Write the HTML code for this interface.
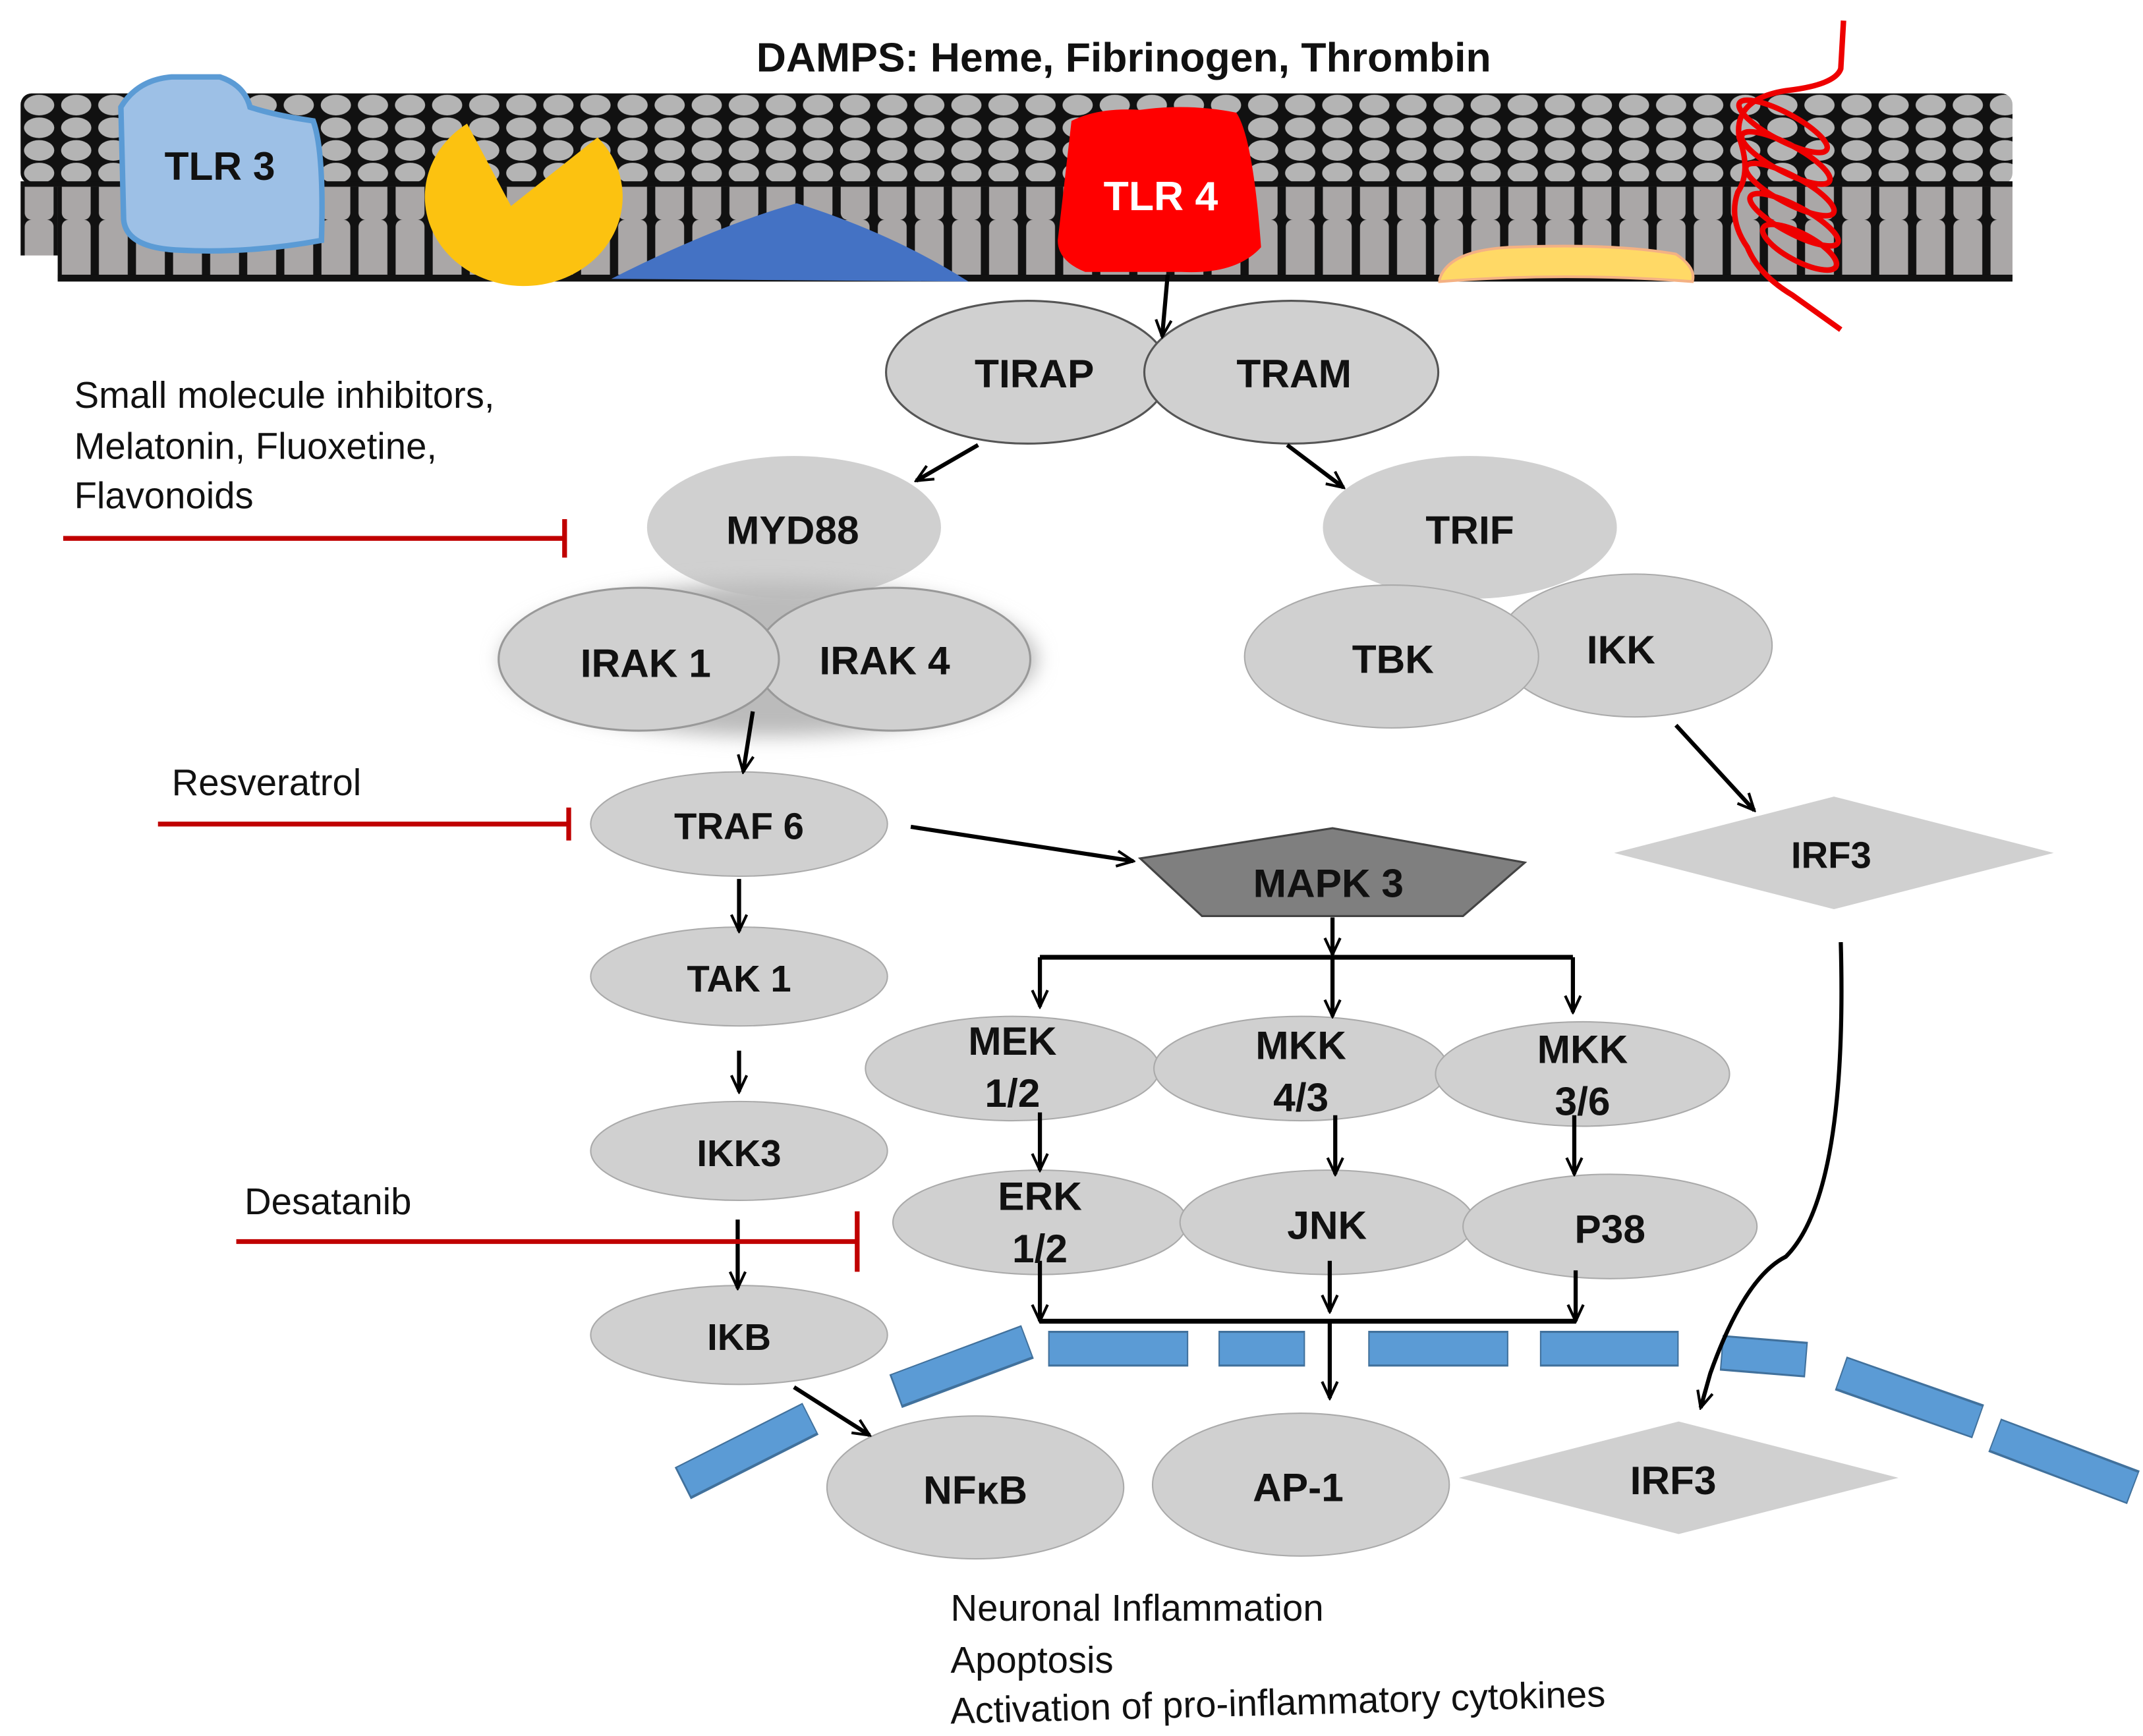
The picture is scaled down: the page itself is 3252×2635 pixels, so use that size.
<!DOCTYPE html>
<html><head><meta charset="utf-8"><style>
html,body{margin:0;padding:0;background:#fff;}
svg{display:block;}
text{font-family:"Liberation Sans",Arial,sans-serif;}
.b{font-weight:bold;fill:#111;}
</style></head><body>
<svg width="3252" height="2635" viewBox="0 0 1560 1264" xmlns="http://www.w3.org/2000/svg">
<defs>
<marker id="a" viewBox="0 0 20 20" refX="18" refY="10" markerWidth="16" markerHeight="16" orient="auto" markerUnits="userSpaceOnUse">
<path d="M3,3 L18,10 L3,17" fill="none" stroke="#000" stroke-width="2.5"/></marker>
<pattern id="heads" x="15" y="68" width="27" height="16.5" patternUnits="userSpaceOnUse">
<rect width="27" height="16.5" fill="#111"/>
<ellipse cx="13.5" cy="8.5" rx="11" ry="7.5" fill="#b4b4b4"/></pattern>
<pattern id="tails" x="15" y="0" width="27" height="80" patternUnits="userSpaceOnUse">
<rect width="27" height="80" fill="#111"/>
<rect x="3" y="0" width="21" height="80" rx="5" fill="#aaa7a7"/></pattern>
<filter id="glow" x="-20%" y="-30%" width="140%" height="160%"><feGaussianBlur stdDeviation="7"/></filter>
</defs>

<rect x="15" y="68" width="1450" height="66" fill="url(#heads)" rx="8"/>
<rect x="15" y="132" width="1450" height="4" fill="#111"/>
<rect x="15" y="136" width="27" height="50" fill="url(#tails)"/>
<rect x="42" y="136" width="1423" height="68" fill="url(#tails)"/>
<rect x="42" y="200" width="1423" height="5" fill="#111"/>

<text x="818" y="52" class="b" font-size="30" text-anchor="middle">DAMPS: Heme, Fibrinogen, Thrombin</text>

<path d="M88,78 Q100,58 125,56 L160,56 Q178,62 182,78 Q200,84 228,88 Q236,110 234,175 Q180,185 128,182 Q92,180 90,160 Z" fill="#9dc0e6" stroke="#5b9bd5" stroke-width="4"/>
<text x="160" y="131" class="b" font-size="29" text-anchor="middle">TLR 3</text>
<path d="M372,150 L340,90 A72,65 0 1 0 435,100 Z" fill="#fcc210"/>
<path d="M445,203 Q520,165 580,148 Q650,170 705,205 Z" fill="#4472c4"/>
<path d="M780,88 Q800,78 830,80 Q865,75 900,82 Q912,100 918,180 Q900,200 860,198 L790,198 Q770,190 770,175 Z" fill="#ff0000"/>
<text x="845" y="153" font-size="30" font-weight="bold" fill="#fff" text-anchor="middle">TLR 4</text>
<path d="M1048,203 Q1055,182 1100,180 Q1175,177 1220,185 Q1235,195 1232,205 Q1140,198 1048,205 Z" fill="#ffd966" stroke="#f4b183" stroke-width="2"/>
<path d="M1342,15 L1340,50 Q1336,62 1300,66 Q1262,72 1266,100 Q1275,125 1265,140 Q1258,160 1272,180 Q1280,200 1305,215 L1340,240" fill="none" stroke="#e00" stroke-width="4"/>
<g fill="none" stroke="#e00" stroke-width="4">
<ellipse cx="1298" cy="92" rx="36" ry="10" transform="rotate(28 1298 92)"/>
<ellipse cx="1300" cy="115" rx="36" ry="10" transform="rotate(28 1300 115)"/>
<ellipse cx="1303" cy="138" rx="36" ry="10" transform="rotate(28 1303 138)"/>
<ellipse cx="1306" cy="160" rx="36" ry="10" transform="rotate(28 1306 160)"/>
<ellipse cx="1310" cy="180" rx="30" ry="10" transform="rotate(28 1310 180)"/>
</g>

<g fill="#d0d0d0" stroke="#555" stroke-width="1.5">
<ellipse cx="748" cy="271" rx="103" ry="52"/>
<ellipse cx="940" cy="271" rx="107" ry="52"/>
<ellipse cx="578" cy="384" rx="107" ry="52" stroke="none"/>
<ellipse cx="1070" cy="384" rx="107" ry="52" stroke="none"/>
</g>
<ellipse cx="560" cy="480" rx="195" ry="56" fill="#bbb" filter="url(#glow)"/>
<g fill="#d0d0d0" stroke="#999" stroke-width="1.5">
<ellipse cx="650" cy="480" rx="100" ry="52"/>
<ellipse cx="465" cy="480" rx="102" ry="52"/>
</g>
<g fill="#d0d0d0" stroke="#aaa" stroke-width="1">
<ellipse cx="1190" cy="470" rx="100" ry="52"/>
<ellipse cx="1013" cy="478" rx="107" ry="52"/>
<ellipse cx="538" cy="600" rx="108" ry="38"/>
<ellipse cx="538" cy="711" rx="108" ry="36"/>
<ellipse cx="538" cy="838" rx="108" ry="36"/>
<ellipse cx="538" cy="972" rx="108" ry="36"/>
<ellipse cx="737" cy="778" rx="107" ry="38"/>
<ellipse cx="947" cy="778" rx="107" ry="38"/>
<ellipse cx="1152" cy="782" rx="107" ry="38"/>
<ellipse cx="757" cy="890" rx="107" ry="38"/>
<ellipse cx="966" cy="890" rx="107" ry="38"/>
<ellipse cx="1172" cy="893" rx="107" ry="38"/>
<ellipse cx="710" cy="1083" rx="108" ry="52"/>
<ellipse cx="947" cy="1081" rx="108" ry="52"/>
</g>
<polygon points="830,625 970,603 1110,628 1065,667 875,667" fill="#7f7f7f" stroke="#444" stroke-width="1.5"/>
<polygon points="1175,621 1335,580 1495,621 1335,662" fill="#d0d0d0"/>
<polygon points="1062,1076 1222,1035 1382,1076 1222,1117" fill="#d0d0d0"/>

<g stroke="#41719c" stroke-width="26" stroke-linecap="butt">
<line x1="497" y1="1080" x2="590" y2="1033"/>
<line x1="652" y1="1013" x2="748" y2="977"/>
<line x1="763" y1="982" x2="865" y2="982"/>
<line x1="887" y1="982" x2="950" y2="982"/>
<line x1="996" y1="982" x2="1098" y2="982"/>
<line x1="1121" y1="982" x2="1222" y2="982"/>
<line x1="1253" y1="985" x2="1315" y2="990"/>
<line x1="1340" y1="1000" x2="1440" y2="1035"/>
<line x1="1452" y1="1045" x2="1553" y2="1083"/>
</g>
<g stroke="#5b9bd5" stroke-width="23" stroke-linecap="butt">
<line x1="498" y1="1079" x2="589" y2="1033"/>
<line x1="653" y1="1012" x2="747" y2="977"/>
<line x1="764" y1="982" x2="864" y2="982"/>
<line x1="888" y1="982" x2="949" y2="982"/>
<line x1="997" y1="982" x2="1097" y2="982"/>
<line x1="1122" y1="982" x2="1221" y2="982"/>
<line x1="1254" y1="985" x2="1314" y2="990"/>
<line x1="1341" y1="1000" x2="1439" y2="1035"/>
<line x1="1453" y1="1045" x2="1552" y2="1083"/>
</g>

<g stroke="#000" stroke-width="3" fill="none" marker-end="url(#a)">
<line x1="850" y1="200" x2="846" y2="245"/>
<line x1="712" y1="324" x2="667" y2="350"/>
<line x1="937" y1="324" x2="978" y2="355"/>
<line x1="548" y1="518" x2="541" y2="562"/>
<line x1="663" y1="602" x2="825" y2="627"/>
<line x1="1220" y1="528" x2="1277" y2="590"/>
<line x1="538" y1="640" x2="538" y2="678"/>
<line x1="538" y1="765" x2="538" y2="795"/>
<line x1="537" y1="888" x2="537" y2="938"/>
<line x1="578" y1="1010" x2="633" y2="1045"/>
<line x1="970" y1="668" x2="970" y2="695"/>
<line x1="757" y1="697" x2="757" y2="733"/>
<line x1="970" y1="697" x2="970" y2="740"/>
<line x1="1145" y1="697" x2="1145" y2="737"/>
<line x1="757" y1="810" x2="757" y2="852"/>
<line x1="972" y1="812" x2="972" y2="855"/>
<line x1="1146" y1="812" x2="1146" y2="855"/>
<line x1="757" y1="918" x2="757" y2="962"/>
<line x1="968" y1="918" x2="968" y2="955"/>
<line x1="1147" y1="925" x2="1147" y2="962"/>
<line x1="968" y1="962" x2="968" y2="1018"/>
<path d="M1340,686 Q1345,870 1300,915 Q1270,930 1245,1000 L1238,1025"/>
</g>
<g stroke="#000" stroke-width="3.5" fill="none">
<polyline points="757,697 1145,697"/>
<polyline points="757,962 1147,962"/>
</g>

<g stroke="#c00000" stroke-width="3.5">
<line x1="46" y1="392" x2="411" y2="392"/><line x1="411" y1="378" x2="411" y2="406"/>
<line x1="115" y1="600" x2="414" y2="600"/><line x1="414" y1="588" x2="414" y2="612"/>
<line x1="172" y1="904" x2="624" y2="904"/><line x1="624" y1="882" x2="624" y2="926"/>
</g>
<g font-size="27" fill="#111">
<text x="54" y="297">Small molecule inhibitors,</text>
<text x="54" y="334">Melatonin, Fluoxetine,</text>
<text x="54" y="370">Flavonoids</text>
<text x="125" y="579">Resveratrol</text>
<text x="178" y="884">Desatanib</text>
<text x="692" y="1180">Neuronal Inflammation</text>
<text x="692" y="1218">Apoptosis</text>
<text x="692" y="1255" transform="rotate(-1.5 692 1255)">Activation of pro-inflammatory cytokines</text>
</g>

<g class="b" font-size="29" text-anchor="middle">
<text x="753" y="282">TIRAP</text>
<text x="942" y="282">TRAM</text>
<text x="577" y="396">MYD88</text>
<text x="1070" y="396">TRIF</text>
<text x="470" y="493">IRAK 1</text>
<text x="644" y="491">IRAK 4</text>
<text x="1014" y="490">TBK</text>
<text x="1180" y="483">IKK</text>
<text x="538" y="611" font-size="27">TRAF 6</text>
<text x="538" y="722" font-size="27">TAK 1</text>
<text x="538" y="849" font-size="27">IKK3</text>
<text x="538" y="983" font-size="27">IKB</text>
<text x="967" y="653">MAPK 3</text>
<text x="1333" y="632" font-size="27">IRF3</text>
<text x="737" y="768">MEK</text><text x="737" y="806">1/2</text>
<text x="947" y="771">MKK</text><text x="947" y="809">4/3</text>
<text x="1152" y="774">MKK</text><text x="1152" y="812">3/6</text>
<text x="757" y="881">ERK</text><text x="757" y="919">1/2</text>
<text x="966" y="902">JNK</text>
<text x="1172" y="905">P38</text>
<text x="710" y="1095">NFκB</text>
<text x="945" y="1093">AP-1</text>
<text x="1218" y="1088">IRF3</text>
</g>
</svg>
</body></html>
